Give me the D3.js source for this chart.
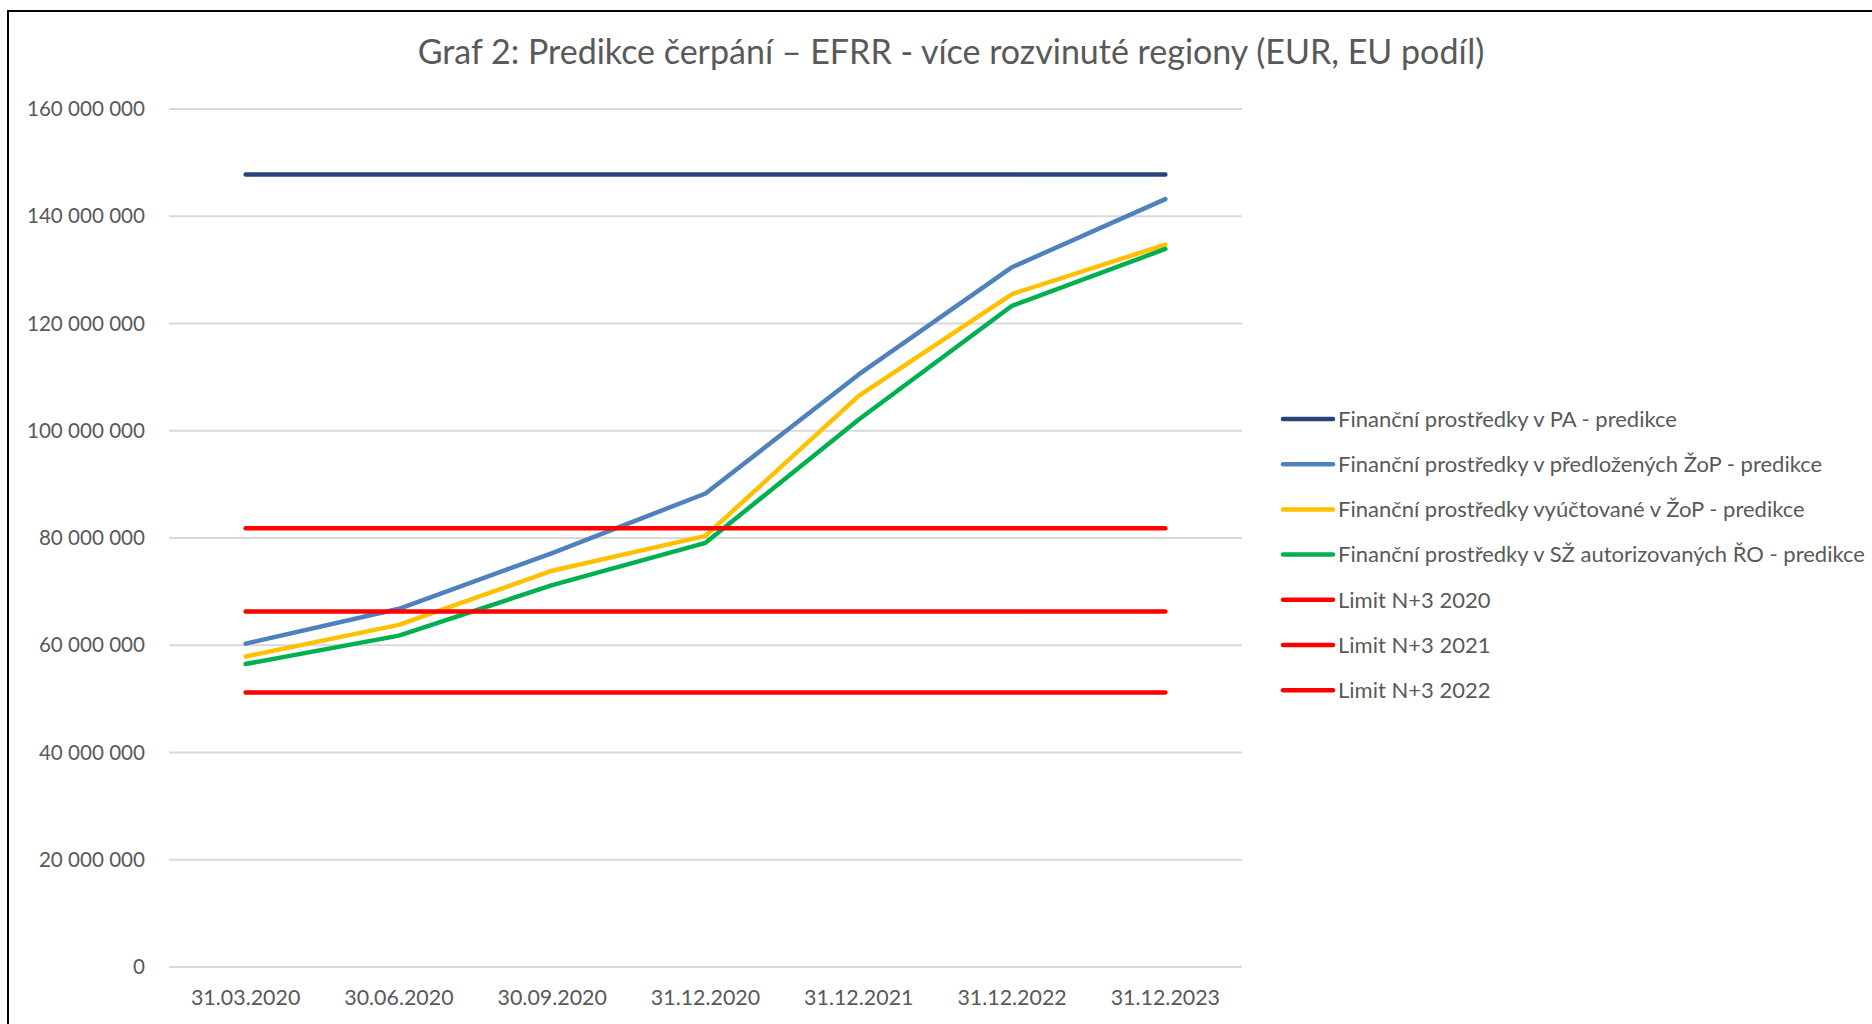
<!DOCTYPE html>
<html lang="cs">
<head>
<meta charset="UTF-8">
<title>Graf 2: Predikce čerpání</title>
<script src="https://d3js.org/d3.v7.min.js"></script>
<style>
  body { margin: 0; background: #fff; }
  svg { display: block; font-family: Lato, "Open Sans", sans-serif; }
  .grid line { stroke: #d9d9d9; stroke-width: 2px; }
  .series { fill: none; stroke-width: 4.5px; stroke-linecap: round; stroke-linejoin: round; }
  text { fill: #595959; }
</style>
</head>
<body>
<svg id="chart" width="1872" height="1024"></svg>
<script>
// data
const categories = ["31.03.2020", "30.06.2020", "30.09.2020", "31.12.2020", "31.12.2021", "31.12.2022", "31.12.2023"];

const paValues        = [147.8e6, 147.8e6, 147.8e6, 147.8e6, 147.8e6, 147.8e6, 147.8e6];
const zopValues       = [60.3e6, 66.8e6, 77.2e6, 88.3e6, 110.5e6, 130.5e6, 143.2e6];
const vyuctovaneValues = [57.9e6, 63.8e6, 73.9e6, 80.4e6, 106.5e6, 125.5e6, 134.7e6];
const szValues        = [56.5e6, 61.8e6, 71.2e6, 79.1e6, 102.1e6, 123.3e6, 133.9e6];
const limit2020       = [81.8e6, 81.8e6, 81.8e6, 81.8e6, 81.8e6, 81.8e6, 81.8e6];
const limit2021       = [66.3e6, 66.3e6, 66.3e6, 66.3e6, 66.3e6, 66.3e6, 66.3e6];
const limit2022       = [51.2e6, 51.2e6, 51.2e6, 51.2e6, 51.2e6, 51.2e6, 51.2e6];

const yTicks = [0, 20e6, 40e6, 60e6, 80e6, 100e6, 120e6, 140e6, 160e6];

const seriesNames = [
  "Finanční prostředky v PA - predikce",
  "Finanční prostředky v předložených ŽoP - predikce",
  "Finanční prostředky vyúčtované v ŽoP - predikce",
  "Finanční prostředky v SŽ autorizovaných ŘO - predikce",
  "Limit N+3 2020",
  "Limit N+3 2021",
  "Limit N+3 2022"
];
const seriesColors = ["#264478", "#4f81bd", "#ffc000", "#00b050", "#ff0000", "#ff0000", "#ff0000"];

const series = [paValues, zopValues, vyuctovaneValues, szValues, limit2020, limit2021, limit2022]
  .map((values, i) => ({ name: seriesNames[i], color: seriesColors[i], values }));

const svg = d3.select("#chart");

// frame (top and left edges visible in the reference)
svg.append("line").attr("x1", 7).attr("y1", 11).attr("x2", 1872).attr("y2", 11)
  .attr("stroke", "#000").attr("stroke-width", 2);
svg.append("line").attr("x1", 8).attr("y1", 10).attr("x2", 8).attr("y2", 1024)
  .attr("stroke", "#000").attr("stroke-width", 2);

const x = d3.scaleBand().domain(categories).range([169, 1242]);
const y = d3.scaleLinear().domain([0, 160e6]).range([967, 109]);

const fmt = d3.formatLocale({ decimal: ",", thousands: " ", grouping: [3], currency: ["", ""] }).format(",");

// gridlines
svg.append("g").attr("class", "grid")
  .selectAll("line").data(yTicks).join("line")
  .attr("x1", x.range()[0]).attr("x2", x.range()[1])
  .attr("y1", d => y(d)).attr("y2", d => y(d));

// y axis labels
svg.append("g").selectAll("text").data(yTicks).join("text")
  .attr("x", 145).attr("y", d => y(d))
  .attr("dy", "0.35em")
  .attr("text-anchor", "end")
  .style("font-size", "20.6px")
  .text(d => fmt(d));

// x axis labels
svg.append("g").selectAll("text").data(categories).join("text")
  .attr("x", d => x(d) + x.bandwidth() / 2).attr("y", 998)
  .attr("dy", "0.35em")
  .attr("text-anchor", "middle")
  .style("font-size", "21.4px")
  .text(d => d);

const line = d3.line()
  .x((d, i) => x(categories[i]) + x.bandwidth() / 2)
  .y(d => y(d));

svg.append("g").selectAll("path").data(series).join("path")
  .attr("class", "series")
  .attr("stroke", d => d.color)
  .attr("d", d => line(d.values));

// title
svg.append("text")
  .attr("x", 951).attr("y", 64)
  .attr("text-anchor", "middle")
  .style("font-size", "34px")
  .text("Graf 2: Predikce čerpání – EFRR - více rozvinuté regiony (EUR, EU podíl)");

// legend
const legend = svg.append("g").selectAll("g").data(series).join("g")
  .attr("transform", (d, i) => `translate(1281,${419 + i * 45.2})`);

legend.append("line")
  .attr("x1", 2).attr("x2", 52).attr("y1", 0).attr("y2", 0)
  .attr("stroke", d => d.color).attr("stroke-width", 4.5)
  .attr("stroke-linecap", "round");

legend.append("text")
  .attr("x", 57).attr("y", 0).attr("dy", "0.35em")
  .style("font-size", "22px")
  .text(d => d.name);
</script>
</body>
</html>
